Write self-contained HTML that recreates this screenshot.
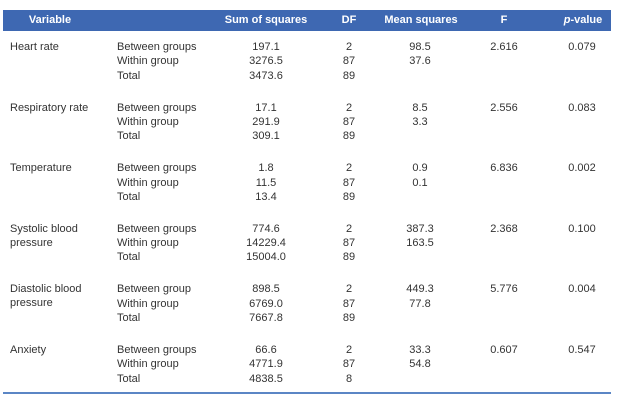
<!DOCTYPE html>
<html><head><meta charset="utf-8"><style>
body{margin:0;width:638px;height:404px;background:#fff;position:relative;font-family:"Liberation Sans",sans-serif;font-size:11px;color:#333;overflow:hidden}
#hdr{position:absolute;left:3px;top:10px;width:608px;height:21px;background:#3e68b2}
.h{position:absolute;top:14px;color:#fff;font-weight:bold;font-size:11px;transform:translateX(-50%);white-space:nowrap}
.t{position:absolute;white-space:nowrap;line-height:14px}
.c{transform:translateX(-50%);text-align:center}
#bot{position:absolute;left:3px;top:392px;width:608px;height:2px;background:#5b86c5}
</style></head><body>
<div id="hdr"></div>
<div class="h" style="left:50px">Variable</div>
<div class="h" style="left:266px">Sum of squares</div>
<div class="h" style="left:349px">DF</div>
<div class="h" style="left:421px">Mean squares</div>
<div class="h" style="left:504px">F</div>
<div class="h" style="left:583px"><i>p</i>-value</div>
<div id="rows"></div>
<div id="bot"></div>
<script>
const variables=[["Heart rate"],["Respiratory rate"],["Temperature"],["Systolic blood","pressure"],["Diastolic blood","pressure"],["Anxiety"]];
const sources=[["Between groups","Within group","Total"],["Between groups","Within group","Total"],["Between groups","Within group","Total"],["Between groups","Within group","Total"],["Between group","Within group","Total"],["Between groups","Within group","Total"]];
const sumSq=[["197.1","3276.5","3473.6"],["17.1","291.9","309.1"],["1.8","11.5","13.4"],["774.6","14229.4","15004.0"],["898.5","6769.0","7667.8"],["66.6","4771.9","4838.5"]];
const dfs=[["2","87","89"],["2","87","89"],["2","87","89"],["2","87","89"],["2","87","89"],["2","87","8"]];
const meanSq=[["98.5","37.6"],["8.5","3.3"],["0.9","0.1"],["387.3","163.5"],["449.3","77.8"],["33.3","54.8"]];
const fVals=["2.616","2.556","6.836","2.368","5.776","0.607"];
const pVals=["0.079","0.083","0.002","0.100","0.004","0.547"];
const root=document.getElementById('rows');
function add(txt,x,y,center,name){
  const d=document.createElement('div');
  d.className='t'+(center?' c':'');
  d.style.left=x+'px';d.style.top=y+'px';
  d.innerHTML=txt;
  
  
  root.appendChild(d);
}
variables.forEach((v,i)=>{
  const y0=40+i*60.6;
  add(v.join('<br>'),10,y0,false,'variable-label');
  sources[i].forEach((s,j)=>add(s,117,y0+j*14.3,false,'source-label'));
  sumSq[i].forEach((s,j)=>add(s,266,y0+j*14.3,true,'sum-of-squares-cell'));
  dfs[i].forEach((s,j)=>add(s,349,y0+j*14.3,true,'df-cell'));
  meanSq[i].forEach((s,j)=>add(s,420,y0+j*14.3,true,'mean-squares-cell'));
  add(fVals[i],504,y0,true,'f-cell');
  add(pVals[i],582,y0,true,'p-value-cell');
});
</script>
</body></html>
